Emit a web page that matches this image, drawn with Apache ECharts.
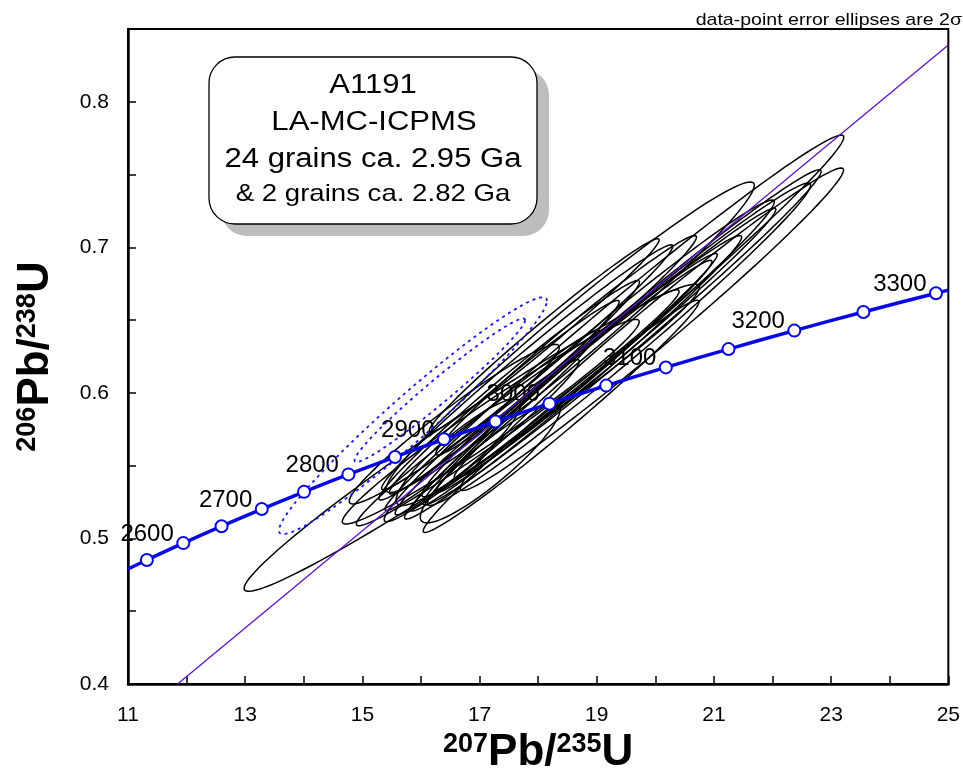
<!DOCTYPE html>
<html>
  <head>
    <meta charset="utf-8" />
    <title>A1191 concordia</title>
    <script src="https://cdn.jsdelivr.net/npm/echarts@6.0.0/dist/echarts.min.js"></script>
    <style>
      body {
        margin: 0;
        padding: 0;
        background: #fff;
      }
      #main {
        width: 963px;
        height: 780px;
      }
    </style>
  </head>
  <body>
    <div id="main"></div>
    <script type="text/javascript">
      var FONT = '"Liberation Sans", Arial, Helvetica, sans-serif';

      // concordia marks every 50 Ma
      var ages = [2550, 2600, 2650, 2700, 2750, 2800, 2850, 2900, 2950, 3000, 3050, 3100, 3150, 3200, 3250, 3300];
      var conc207 = [11.322, 11.944, 12.597, 13.283, 14.004, 14.762, 15.557, 16.393, 17.271, 18.193, 19.162, 20.179, 21.249, 22.372, 23.551, 24.79];
      var conc206 = [0.4852, 0.4968, 0.5084, 0.5202, 0.532, 0.544, 0.556, 0.5681, 0.5803, 0.5926, 0.605, 0.6175, 0.6301, 0.6428, 0.6556, 0.6685];
      var labelAges = [2600, 2700, 2800, 2900, 3000, 3100, 3200, 3300];
      // where the curve meets the plot edges
      var concEnd207 = [11, 25];
      var concEnd206 = [0.479, 0.6706];

      // reference (discordia) line
      var disc207 = [11.847, 25];
      var disc206 = [0.4, 0.839];

      // 24 grains ca. 2.95 Ga : centre, 2s errors, error correlation
      var x207 = [19.294, 19.942, 19.431, 19.38, 18.545, 19.022, 19.311, 18.596, 18.443, 18.613, 18.477, 17.813, 18.102, 17.506, 17.421, 17.217, 17.191, 17.131, 16.569, 18.392, 17.651, 16.638, 17.182, 16.867];
      var y206 = [0.6443, 0.6437, 0.6382, 0.6334, 0.6382, 0.6306, 0.634, 0.6107, 0.6073, 0.6114, 0.6327, 0.6176, 0.6395, 0.6018, 0.597, 0.5812, 0.5802, 0.5695, 0.5785, 0.5839, 0.5898, 0.5592, 0.5517, 0.5692];
      var err207 = [3.922, 3.27, 3.398, 3.27, 3.144, 3.008, 2.745, 2.877, 2.614, 2.354, 2.224, 2.485, 1.962, 2.224, 1.962, 1.831, 2.534, 1.572, 1.793, 2.354, 2.754, 1.063, 1.194, 3.885];
      var err206 = [0.1328, 0.1108, 0.1151, 0.1108, 0.1067, 0.1019, 0.0929, 0.0974, 0.0885, 0.0797, 0.0754, 0.0841, 0.0664, 0.0754, 0.0665, 0.062, 0.0703, 0.0533, 0.0548, 0.0798, 0.0811, 0.0365, 0.041, 0.1055];
      var rho = [0.989, 0.987, 0.99, 0.987, 0.978, 0.987, 0.99, 0.989, 0.99, 0.989, 0.986, 0.988, 0.987, 0.986, 0.985, 0.986, 0.976, 0.979, 0.965, 0.987, 0.985, 0.901, 0.904, 0.98];

      // 2 grains ca. 2.82 Ga (dashed)
      var x207b = [15.863, 16.322];
      var y206b = [0.5843, 0.6018];
      var err207b = [2.287, 1.455];
      var err206b = [0.0814, 0.0493];
      var rhob = [0.969, 0.977];

      var xTickLabels = ["11", "13", "15", "17", "19", "21", "23", "25"];
      var yTickLabels = ["0.4", "0.5", "0.6", "0.7", "0.8"];

      var myChart = echarts.init(document.getElementById("main"));

      function ellipseRenderer(stroke, width, dash) {
        return function (params, api) {
          var cx = api.value(0);
          var cy = api.value(1);
          var ex = api.value(2);
          var ey = api.value(3);
          var r = api.value(4);
          var k = Math.sqrt(1 - r * r);
          var pts = [];
          for (var i = 0; i < 120; i++) {
            var t = (i / 120) * 2 * Math.PI;
            pts.push(api.coord([cx + ex * Math.cos(t), cy + ey * (r * Math.cos(t) + k * Math.sin(t))]));
          }
          return {
            type: "polygon",
            shape: { points: pts },
            style: { fill: "none", stroke: stroke, lineWidth: width, lineDash: dash },
          };
        };
      }

      var concLine = [[concEnd207[0], concEnd206[0]]];
      ages.forEach(function (a, i) {
        concLine.push([conc207[i], conc206[i]]);
      });
      concLine.push([concEnd207[1], concEnd206[1]]);

      var concMarks = ages.map(function (a, i) {
        return [conc207[i], conc206[i], a];
      });
      var concLabels = labelAges.map(function (a) {
        var i = ages.indexOf(a);
        return [conc207[i], conc206[i], a];
      });

      var grains = x207.map(function (v, i) {
        return [v, y206[i], err207[i], err206[i], rho[i]];
      });
      var grainsB = x207b.map(function (v, i) {
        return [v, y206b[i], err207b[i], err206b[i], rhob[i]];
      });

      var titleRich = {
        s: { fontSize: 27, fontWeight: "bold", fontFamily: FONT, color: "#000", verticalAlign: "top" },
        b: { fontSize: 44, fontWeight: "bold", fontFamily: FONT, color: "#000" },
      };

      var option = {
        animation: false,
        backgroundColor: "#fff",
        grid: {
          left: 128,
          right: 13,
          top: 29,
          bottom: 96,
          show: true,
          borderColor: "#000",
          borderWidth: 2,
          backgroundColor: "transparent",
        },
        xAxis: {
          type: "value",
          min: 11,
          max: 25,
          interval: 1,
          axisLine: { lineStyle: { color: "#000", width: 2.5 } },
          axisTick: { inside: true, length: 8, lineStyle: { color: "#000", width: 1.5 } },
          splitLine: { show: false },
          axisLabel: {
            color: "#000",
            fontSize: 21,
            fontFamily: FONT,
            margin: 21,
            formatter: function (v) {
              var s = String(v);
              return xTickLabels.indexOf(s) >= 0 ? s : "";
            },
          },
          name: "{s|207}{b|Pb/}{s|235}{b|U}",
          nameLocation: "middle",
          nameGap: 47,
          nameTextStyle: { rich: titleRich },
        },
        yAxis: {
          type: "value",
          min: 0.4,
          max: 0.85,
          interval: 0.05,
          axisLine: { lineStyle: { color: "#000", width: 2.5 } },
          axisTick: { inside: true, length: 8, lineStyle: { color: "#000", width: 1.5 } },
          splitLine: { show: false },
          axisLabel: {
            color: "#000",
            fontSize: 21,
            fontFamily: FONT,
            margin: 19,
            formatter: function (v) {
              var s = (Math.round(v * 100) / 100).toString();
              return yTickLabels.indexOf(s) >= 0 ? s : "";
            },
          },
          name: "{s|206}{b|Pb/}{s|238}{b|U}",
          nameLocation: "middle",
          nameRotate: 90,
          nameGap: 70,
          nameTextStyle: { rich: titleRich },
        },
        graphic: [
          {
            type: "rect",
            z: 50,
            shape: { x: 221, y: 69, width: 328, height: 167, r: 26 },
            style: { fill: "#bdbdbd" },
          },
          {
            type: "rect",
            z: 51,
            shape: { x: 209, y: 57, width: 328, height: 167, r: 26 },
            style: { fill: "#fff", stroke: "#000", lineWidth: 1.3 },
          },
          {
            type: "text",
            z: 52,
            x: 373,
            y: 86,
            scaleX: 1.15,
            style: { text: "A1191", font: "27px " + FONT, fill: "#000", textAlign: "center", textVerticalAlign: "middle" },
          },
          {
            type: "text",
            z: 52,
            x: 374,
            y: 123,
            scaleX: 1.15,
            style: { text: "LA-MC-ICPMS", font: "27px " + FONT, fill: "#000", textAlign: "center", textVerticalAlign: "middle" },
          },
          {
            type: "text",
            z: 52,
            x: 373,
            y: 160,
            scaleX: 1.15,
            style: { text: "24 grains ca. 2.95 Ga", font: "27px " + FONT, fill: "#000", textAlign: "center", textVerticalAlign: "middle" },
          },
          {
            type: "text",
            z: 52,
            x: 373,
            y: 194,
            scaleX: 1.15,
            style: { text: "& 2 grains ca. 2.82 Ga", font: "24px " + FONT, fill: "#000", textAlign: "center", textVerticalAlign: "middle" },
          },
          {
            type: "text",
            z: 52,
            x: 962,
            y: 20,
            scaleX: 1.15,
            style: { text: "data-point error ellipses are 2\u03c3", font: "17px " + FONT, fill: "#000", textAlign: "right", textVerticalAlign: "middle" },
          },
        ],
        series: [
          {
            // age labels sit under the ellipses
            type: "scatter",
            z: 1,
            data: concLabels,
            symbolSize: 1,
            itemStyle: { color: "rgba(0,0,0,0)", opacity: 1 },
            label: {
              show: true,
              position: "left",
              distance: 9,
              offset: [0, -9],
              color: "#000",
              fontSize: 24,
              fontFamily: FONT,
              formatter: function (p) {
                return p.value[2];
              },
            },
          },
          {
            type: "custom",
            z: 2,
            data: grains,
            renderItem: ellipseRenderer("#000", 1.5, null),
          },
          {
            type: "custom",
            z: 3,
            data: grainsB,
            renderItem: ellipseRenderer("#1a1ae6", 1.8, [3, 4]),
          },
          {
            type: "line",
            z: 4,
            data: disc207.map(function (v, i) {
              return [v, disc206[i]];
            }),
            showSymbol: false,
            lineStyle: { color: "#5a14c8", width: 1.3 },
          },
          {
            type: "line",
            z: 5,
            data: concLine,
            smooth: true,
            showSymbol: false,
            lineStyle: { color: "#0808e0", width: 3.5 },
          },
          {
            type: "scatter",
            z: 6,
            data: concMarks,
            symbol: "circle",
            symbolSize: 12,
            itemStyle: { color: "#fff", borderColor: "#0808e0", borderWidth: 2, opacity: 1 },
          },
        ],
      };

      myChart.setOption(option);
    </script>
  </body>
</html>
